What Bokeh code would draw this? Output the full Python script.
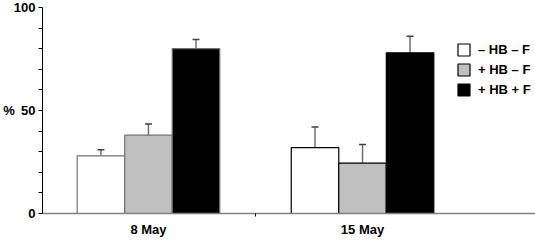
import numpy as np
from bokeh.plotting import figure
from bokeh.models import (ColumnDataSource, FixedTicker, Whisker, TeeHead, Legend,
                          LegendItem, Range1d)
from bokeh.embed import file_html
from bokeh.resources import INLINE

# ---- data ----
groups = ["8 May", "15 May"]
series = ["\u2013 HB \u2013 F", "+ HB \u2013 F", "+ HB + F"]
minus_hb_minus_f = [28, 32]
minus_hb_minus_f_err = [3, 10]
plus_hb_minus_f = [38, 24.5]
plus_hb_minus_f_err = [5.5, 9]
plus_hb_plus_f = [80, 78]
plus_hb_plus_f_err = [4.5, 8]
y_ticks = [0, 50, 100]
y_minor = [10, 20, 30, 40, 60, 70, 80, 90]

values = [minus_hb_minus_f, plus_hb_minus_f, plus_hb_plus_f]
errors = [minus_hb_minus_f_err, plus_hb_minus_f_err, plus_hb_plus_f_err]

# ---- styles ----
fills = ["white", "#c0c0c0", "black"]
outline_by_group = ["#707070", "black"]
offsets = [-0.222, 0.0, 0.222]
bar_w = 0.222
FONT = "Liberation Sans"

p = figure(width=535, height=241, output_backend="svg", toolbar_location=None,
           x_range=Range1d(0.505, 2.808), y_range=Range1d(0, 100),
           min_border_left=42, min_border_right=0, min_border_top=7,
           min_border_bottom=28)
p.outline_line_color = None
p.xgrid.visible = False
p.ygrid.visible = False

group_pos = np.arange(1, len(groups) + 1, dtype=float)
renderers = []
for i in range(3):
    src = ColumnDataSource(dict(
        x=group_pos + offsets[i],
        top=values[i],
        upper=np.array(values[i]) + np.array(errors[i]),
        lc=outline_by_group,
    ))
    r = p.vbar(x="x", top="top", width=bar_w, bottom=0, source=src,
               fill_color=fills[i], line_color="lc", line_width=1.2)
    renderers.append(r)
    w = Whisker(base="x", upper="upper", lower="top", source=src,
                dimension="height", line_color="#707070", line_width=1.5,
                upper_head=TeeHead(size=7, line_color="#404040", line_width=1.5),
                lower_head=None)
    p.add_layout(w)

# axes
p.yaxis.ticker = FixedTicker(ticks=y_ticks, minor_ticks=y_minor)
p.yaxis.axis_line_color = "black"
p.yaxis.major_tick_in = 0
p.yaxis.major_tick_out = 4
p.yaxis.minor_tick_in = 0
p.yaxis.minor_tick_out = 4
p.yaxis.minor_tick_line_color = "black"
p.yaxis.major_label_standoff = 3
p.yaxis.major_label_text_font = FONT
p.yaxis.major_label_text_font_style = "bold"
p.yaxis.major_label_text_font_size = "13px"
p.yaxis.major_label_text_color = "black"
p.yaxis.axis_label = "%"
p.yaxis.axis_label_orientation = "horizontal"
p.yaxis.axis_label_standoff = -4
p.yaxis.axis_label_text_font = FONT
p.yaxis.axis_label_text_font_style = "bold"
p.yaxis.axis_label_text_font_size = "13px"
p.yaxis.axis_label_text_color = "black"

p.xaxis.ticker = FixedTicker(ticks=list(group_pos), minor_ticks=[1.5])
p.xaxis.major_label_overrides = {float(g): lab for g, lab in zip(group_pos, groups)}
p.xaxis.major_label_overrides.update({int(g): lab for g, lab in zip(group_pos, groups)})
p.xaxis.axis_line_color = "#808080"
p.xaxis.axis_line_width = 1.3
p.xaxis.major_tick_line_color = None
p.xaxis.major_tick_in = 0
p.xaxis.major_tick_out = 0
p.xaxis.minor_tick_in = 0
p.xaxis.minor_tick_out = 3
p.xaxis.minor_tick_line_color = "black"
p.xaxis.major_label_standoff = 5
p.xaxis.major_label_text_font = FONT
p.xaxis.major_label_text_font_style = "bold"
p.xaxis.major_label_text_font_size = "13px"
p.xaxis.major_label_text_color = "black"

legend = Legend(items=[LegendItem(label=series[i], renderers=[renderers[i]], index=1)
                       for i in range(3)],
                location=(414, 116), padding=0, margin=0, spacing=5,
                glyph_width=15, glyph_height=15, label_height=15, label_standoff=7,
                border_line_color=None, background_fill_alpha=0,
                label_text_font=FONT, label_text_font_style="bold",
                label_text_font_size="13px", label_text_color="black")
p.add_layout(legend)

open("out.html", "w").write(file_html(p, INLINE))
